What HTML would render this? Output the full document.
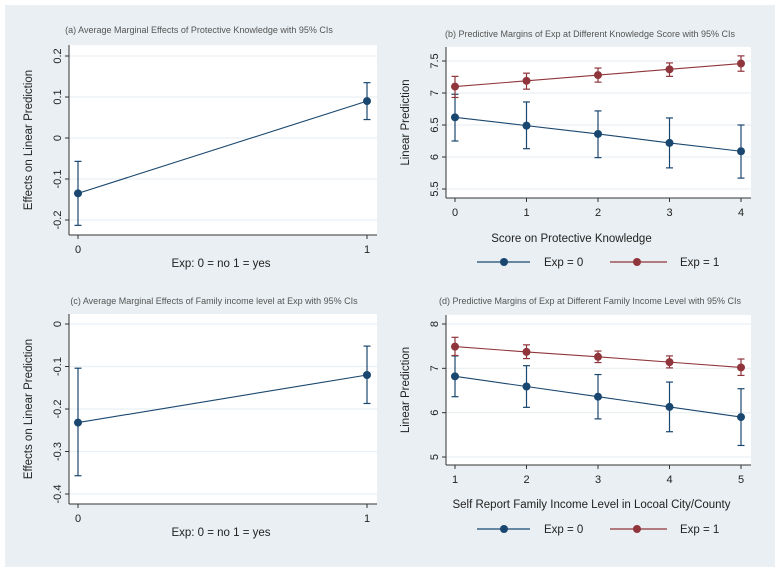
<!DOCTYPE html>
<html><head><meta charset="utf-8">
<style>
html,body{margin:0;padding:0;background:#fff;}
svg{display:block;font-family:"Liberation Sans",Arial,sans-serif;}
</style></head>
<body>
<svg id="fig" width="784" height="574" viewBox="0 0 784 574">
<rect x="5" y="5" width="770" height="562" fill="#e9eff2"/>
</svg>
<script>
// Panel (a)
const aCats = [0, 1];
const aVals = [-0.135, 0.09];
const aLo = [-0.213, 0.045];
const aHi = [-0.057, 0.135];
const aTicks = [0.2, 0.1, 0, -0.1, -0.2];
const aTickLabels = ["0.2", "0.1", "0", "-0.1", "-0.2"];
// Panel (b)
const bCats = [0, 1, 2, 3, 4];
const bExp0 = [6.62, 6.49, 6.36, 6.22, 6.09];
const bExp0Lo = [6.25, 6.13, 5.99, 5.83, 5.67];
const bExp0Hi = [6.98, 6.86, 6.72, 6.61, 6.50];
const bExp1 = [7.10, 7.19, 7.28, 7.37, 7.46];
const bExp1Lo = [6.93, 7.06, 7.17, 7.26, 7.34];
const bExp1Hi = [7.26, 7.31, 7.39, 7.47, 7.58];
const bTicks = [7.5, 7, 6.5, 6, 5.5];
const bTickLabels = ["7.5", "7", "6.5", "6", "5.5"];
// Panel (c)
const cCats = [0, 1];
const cVals = [-0.232, -0.12];
const cLo = [-0.357, -0.187];
const cHi = [-0.104, -0.052];
const cTicks = [0, -0.1, -0.2, -0.3, -0.4];
const cTickLabels = ["0", "-0.1", "-0.2", "-0.3", "-0.4"];
// Panel (d)
const dCats = [1, 2, 3, 4, 5];
const dExp0 = [6.82, 6.59, 6.36, 6.13, 5.90];
const dExp0Lo = [6.36, 6.12, 5.86, 5.57, 5.26];
const dExp0Hi = [7.28, 7.06, 6.86, 6.69, 6.54];
const dExp1 = [7.49, 7.37, 7.26, 7.14, 7.02];
const dExp1Lo = [7.29, 7.22, 7.13, 7.01, 6.84];
const dExp1Hi = [7.70, 7.53, 7.39, 7.28, 7.21];
const dTicks = [8, 7, 6, 5];
const dTickLabels = ["8", "7", "6", "5"];

const NS = "http://www.w3.org/2000/svg";
const svg = document.getElementById("fig");
const BLUE = "#1a476f", RED = "#90353b";
function mk(tag, attrs, parent, text) {
  const e = document.createElementNS(NS, tag);
  for (const k in attrs) e.setAttribute(k, attrs[k]);
  if (text !== undefined) e.textContent = text;
  (parent || svg).appendChild(e);
  return e;
}
function scale(d0, d1, r0, r1) { return v => r0 + (v - d0) * (r1 - r0) / (d1 - d0); }

function panel(p) {
  const g = mk("g", {});
  
  
  const pr = mk("rect", {x: p.x0, y: p.y0, width: p.x1 - p.x0, height: p.y1 - p.y0, fill: "#fff"}, g);
  
  
  const X = scale(p.xd[0], p.xd[1], p.xr[0], p.xr[1]);
  const Y = scale(p.yd[0], p.yd[1], p.yr[0], p.yr[1]);
  p.yTicks.forEach((t, i) => {
    const y = Y(t);
    const gl = mk("line", {x1: p.x0, x2: p.x1, y1: y, y2: y, stroke: "#eaf0f3", "stroke-width": 1.2}, g);
    
    
    mk("line", {x1: p.x0 - 4, x2: p.x0, y1: y, y2: y, stroke: "#333", "stroke-width": 1}, g);
    const tl = mk("text", {x: p.x0 - 8, y: y, transform: `rotate(-90 ${p.x0 - 8} ${y})`, "text-anchor": "middle", "font-size": 11, fill: "#222"}, g, p.yLabels[i]);
    
    
  });
  mk("line", {x1: p.x0, x2: p.x0, y1: p.y0, y2: p.y1, stroke: "#333", "stroke-width": 1}, g);
  mk("line", {x1: p.x0, x2: p.x1, y1: p.y1, y2: p.y1, stroke: "#333", "stroke-width": 1}, g);
  p.xCats.forEach(c => {
    const x = X(c);
    mk("line", {x1: x, x2: x, y1: p.y1, y2: p.y1 + 4, stroke: "#333"}, g);
    const tl = mk("text", {x: x, y: p.y1 + 18, "text-anchor": "middle", "font-size": 11, fill: "#222"}, g, String(c));
    
    
  });
  p.series.forEach(s => {
    const sg = mk("g", {}, g);
    
    
    mk("polyline", {points: p.xCats.map((c, i) => X(c) + "," + Y(s.v[i])).join(" "), fill: "none", stroke: s.color, "stroke-width": 1.1}, sg);
    p.xCats.forEach((c, i) => {
      const x = X(c);
      mk("line", {x1: x, x2: x, y1: Y(s.lo[i]), y2: Y(s.hi[i]), stroke: s.color, "stroke-width": 1.2}, sg);
      mk("line", {x1: x - 3.5, x2: x + 3.5, y1: Y(s.lo[i]), y2: Y(s.lo[i]), stroke: s.color, "stroke-width": 1.2}, sg);
      mk("line", {x1: x - 3.5, x2: x + 3.5, y1: Y(s.hi[i]), y2: Y(s.hi[i]), stroke: s.color, "stroke-width": 1.2}, sg);
      const pt = mk("circle", {cx: x, cy: Y(s.v[i]), r: 4, fill: s.color}, sg);
      
      
    });
  });
  const tt = mk("text", {x: p.tx, y: p.ty, "text-anchor": "middle", "font-size": 9, fill: "#555"}, g, p.title);
  
  
  const xl = mk("text", {x: (p.x0 + p.x1) / 2 + p.xlOff, y: p.xly, "text-anchor": "middle", "font-size": 11.5, fill: "#222"}, g, p.xLabel);
  
  
  const yc = (p.y0 + p.y1) / 2;
  const yl = mk("text", {x: p.ylx, y: yc, transform: `rotate(-90 ${p.ylx} ${yc})`, "text-anchor": "middle", "font-size": 11.5, fill: "#222"}, g, p.yLabel);
  
  
  if (p.legendY) {
    const lg = mk("g", {}, g);
    
    
    [[BLUE, 477, 530, 504, 544, "Exp = 0"], [RED, 610, 667, 637, 680, "Exp = 1"]].forEach(e => {
      const le = mk("g", {}, lg);
      
      
      mk("line", {x1: e[1], x2: e[2], y1: p.legendY, y2: p.legendY, stroke: e[0], "stroke-width": 1.2}, le);
      mk("circle", {cx: e[3], cy: p.legendY, r: 4, fill: e[0]}, le);
      mk("text", {x: e[4], y: p.legendY + 4, "font-size": 11.5, fill: "#222"}, le, e[5]);
    });
  }
}

panel({name: "panel-a", x0: 69, x1: 377, y0: 45, y1: 235,
  xd: [0, 1], xr: [78, 367], yd: [0, 0.1], yr: [138, 97],
  xCats: aCats, yTicks: aTicks, yLabels: aTickLabels,
  series: [{name: "series-ame", color: BLUE, v: aVals, lo: aLo, hi: aHi}],
  title: "(a) Average Marginal Effects of Protective Knowledge with 95% CIs", tx: 199, ty: 33,
  xLabel: "Exp: 0 = no 1 = yes", xly: 267, xlOff: -2, yLabel: "Effects on Linear Prediction", ylx: 32});

panel({name: "panel-b", x0: 446, x1: 751, y0: 47, y1: 198,
  xd: [0, 4], xr: [455, 741], yd: [5.5, 7.5], yr: [189, 61],
  xCats: bCats, yTicks: bTicks, yLabels: bTickLabels,
  series: [{name: "series-exp0", color: BLUE, v: bExp0, lo: bExp0Lo, hi: bExp0Hi},
           {name: "series-exp1", color: RED, v: bExp1, lo: bExp1Lo, hi: bExp1Hi}],
  title: "(b) Predictive Margins of Exp at Different Knowledge Score with 95% CIs", tx: 590, ty: 37,
  xLabel: "Score on Protective Knowledge", xly: 242, xlOff: -27, yLabel: "Linear Prediction", ylx: 409, legendY: 262});

panel({name: "panel-c", x0: 69, x1: 377, y0: 314, y1: 504,
  xd: [0, 1], xr: [78, 367], yd: [0, -0.4], yr: [324, 494],
  xCats: cCats, yTicks: cTicks, yLabels: cTickLabels,
  series: [{name: "series-ame", color: BLUE, v: cVals, lo: cLo, hi: cHi}],
  title: "(c) Average Marginal Effects of Family income level at Exp with 95% CIs", tx: 214, ty: 304,
  xLabel: "Exp: 0 = no 1 = yes", xly: 536, xlOff: -2, yLabel: "Effects on Linear Prediction", ylx: 32});

panel({name: "panel-d", x0: 446, x1: 751, y0: 315, y1: 465,
  xd: [1, 5], xr: [455, 741], yd: [5, 8], yr: [457, 324],
  xCats: dCats, yTicks: dTicks, yLabels: dTickLabels,
  series: [{name: "series-exp0", color: BLUE, v: dExp0, lo: dExp0Lo, hi: dExp0Hi},
           {name: "series-exp1", color: RED, v: dExp1, lo: dExp1Lo, hi: dExp1Hi}],
  title: "(d) Predictive Margins of Exp at Different Family Income Level with 95% CIs", tx: 590, ty: 304,
  xLabel: "Self Report Family Income Level in Locoal City/County", xly: 508, xlOff: -7, yLabel: "Linear Prediction", ylx: 409, legendY: 529});
</script>
</body></html>
